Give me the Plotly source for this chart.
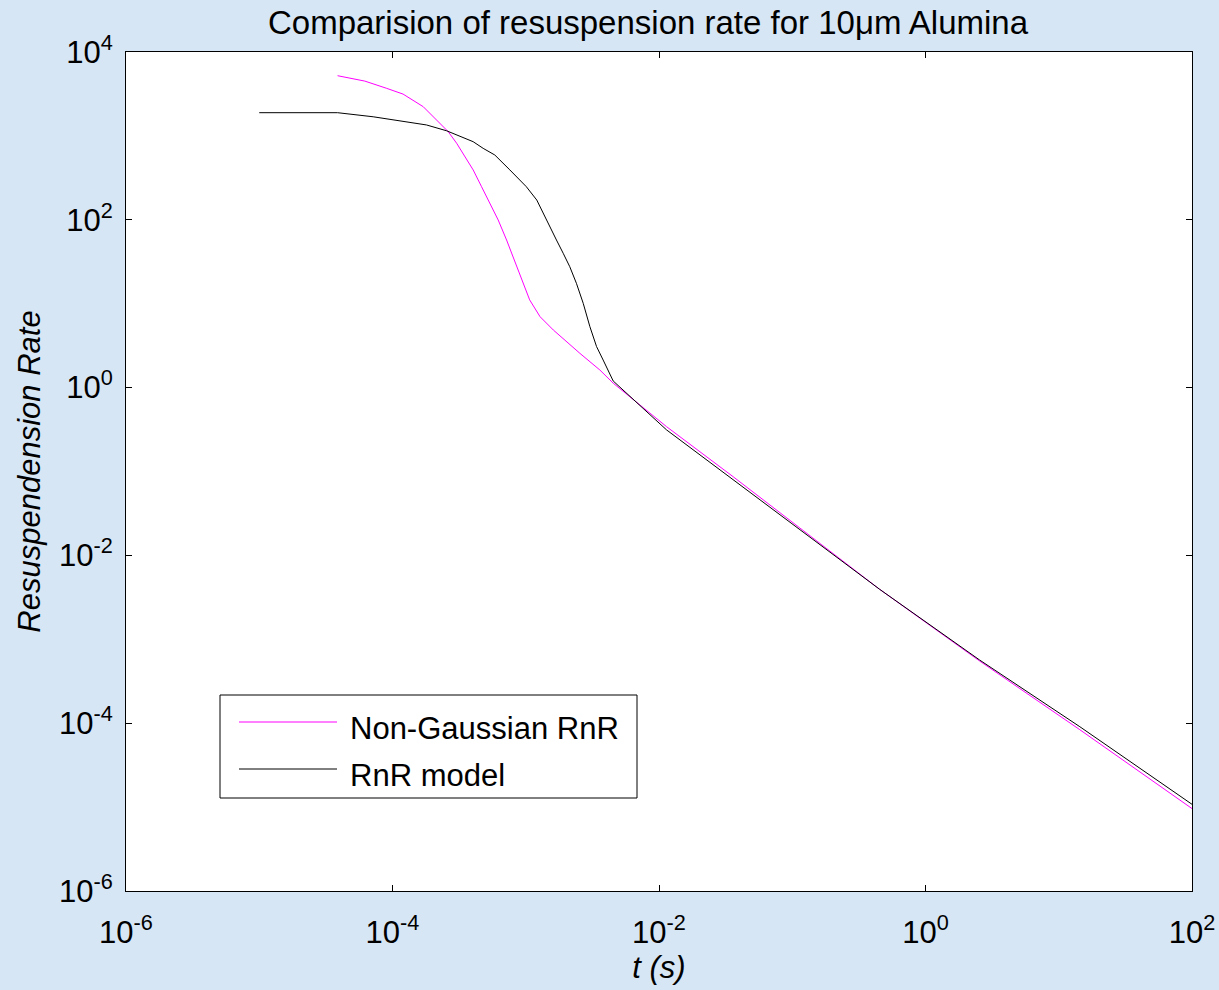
import plotly.graph_objects as go

# ---- data ----
t_rnr = [1.0e-5, 3.87e-5, 7.16e-5, 1.28e-4, 1.80e-4, 2.55e-4, 3.03e-4, 4.03e-4, 4.79e-4,
         5.86e-4, 7.60e-4, 1.01e-3, 1.21e-3, 1.35e-3, 1.70e-3, 1.91e-3, 2.14e-3, 2.40e-3,
         2.70e-3, 3.03e-3, 3.40e-3, 3.81e-3, 4.53e-3, 1.14e-2, 3.60e-2, 0.114, 0.453,
         2.55, 14.4, 100.0]
rate_rnr = [1890, 1890, 1690, 1480, 1350, 1150, 1026, 853, 711, 592, 393, 248, 172, 119,
            57.4, 39.9, 27.6, 17.5, 10.1, 5.32, 3.08, 2.13, 1.20, 0.313, 0.0793, 0.0201,
            3.94e-3, 5.66e-4, 9.08e-5, 1.08e-5]

t_ng = [3.87e-5, 6.20e-5, 9.04e-5, 1.20e-4, 1.70e-4, 2.27e-4, 2.62e-4, 3.03e-4, 3.49e-4,
        4.03e-4, 4.66e-4, 5.38e-4, 6.21e-4, 7.18e-4, 8.53e-4, 1.07e-3, 1.28e-3, 1.61e-3,
        2.55e-3, 3.60e-3, 4.53e-3, 1.14e-2, 3.60e-2, 0.128, 0.453, 2.55, 14.4, 100.0]
rate_ng = [5220, 4500, 3690, 3150, 2230, 1410, 1122, 817, 565, 393, 248, 157, 99.5, 57.4,
           27.6, 11.1, 7.0, 4.86, 2.56, 1.62, 1.13, 0.342, 0.0867, 0.0183, 3.94e-3, 5.51e-4,
           8.36e-5, 9.6e-6]

series_names = ["Non-Gaussian RnR", "RnR model"]
x_tickvals = [1e-6, 1e-4, 1e-2, 1e0, 1e2]
x_ticktext = ["10<sup>-6</sup>", "10<sup>-4</sup>", "10<sup>-2</sup>", "10<sup>0</sup>", "10<sup>2</sup>"]
y_tickvals = [1e-6, 1e-4, 1e-2, 1e0, 1e2, 1e4]
y_ticktext = ["10<sup>-6</sup>", "10<sup>-4</sup>", "10<sup>-2</sup>", "10<sup>0</sup>",
              "10<sup>2</sup>", "10<sup>4</sup>"]

FONT = "Liberation Sans, Arial, sans-serif"
MAG = "#ff00ff"

fig = go.Figure()
fig.add_trace(go.Scatter(x=t_ng, y=rate_ng, mode="lines", name=series_names[0],
                         line=dict(color=MAG, width=1), showlegend=False))
fig.add_trace(go.Scatter(x=t_rnr, y=rate_rnr, mode="lines", name=series_names[1],
                         line=dict(color="black", width=1), showlegend=False))

axis_common = dict(type="log", showgrid=False, zeroline=False, showline=True,
                   linecolor="black", linewidth=1, mirror="ticks", ticks="inside",
                   ticklen=6, tickcolor="black", tickwidth=1, automargin=False,
                   tickfont=dict(family=FONT, size=31, color="black"))

fig.update_xaxes(range=[-6, 2], tickvals=x_tickvals, ticktext=x_ticktext,
                 ticklabelstandoff=14,
                 title=dict(text="<i>t (s)</i>", font=dict(family=FONT, size=31, color="black"),
                            standoff=6),
                 **axis_common)
fig.update_yaxes(range=[-6, 4], tickvals=y_tickvals, ticktext=y_ticktext,
                 ticklabelstandoff=6,
                 title=dict(text="<i>Resuspendension Rate</i>",
                            font=dict(family=FONT, size=31, color="black"), standoff=9),
                 **axis_common)

# manual legend (box, sample lines, labels)
x0, x1 = 220, 637
y0, y1 = 695, 798
W, H = 1219, 990
ml, mr, mt, mb = 126, 27, 52, 99
pw, ph = W - ml - mr, H - mt - mb

def px(x):
    return (x - ml) / pw

def py(y):
    return 1 - (y - mt) / ph

shapes = [
    dict(type="rect", xref="paper", yref="paper", x0=px(x0), x1=px(x1), y0=py(y1), y1=py(y0),
         line=dict(color="black", width=1), fillcolor="white", layer="above"),
    dict(type="line", xref="paper", yref="paper", x0=px(239), x1=px(337), y0=py(722), y1=py(722),
         line=dict(color=MAG, width=1), layer="above"),
    dict(type="line", xref="paper", yref="paper", x0=px(239), x1=px(337), y0=py(769), y1=py(769),
         line=dict(color="black", width=1), layer="above"),
]
annotations = [
    dict(xref="paper", yref="paper", x=px(348), y=py(728), text=series_names[0],
         showarrow=False, xanchor="left", yanchor="middle",
         font=dict(family=FONT, size=31, color="black")),
    dict(xref="paper", yref="paper", x=px(348), y=py(775), text=series_names[1],
         showarrow=False, xanchor="left", yanchor="middle",
         font=dict(family=FONT, size=31, color="black")),
]

fig.update_layout(
    width=W, height=H,
    margin=dict(l=ml, r=mr, t=mt, b=mb, pad=0),
    paper_bgcolor="#d7e6f5",
    plot_bgcolor="white",
    title=dict(text="Comparision of resuspension rate for 10\u03bcm Alumina",
               x=(648) / W, xanchor="center", y=1 - 22 / H, yanchor="middle",
               font=dict(family=FONT, size=33, color="black")),
    shapes=shapes, annotations=annotations,
)

fig.write_html("out.html")
